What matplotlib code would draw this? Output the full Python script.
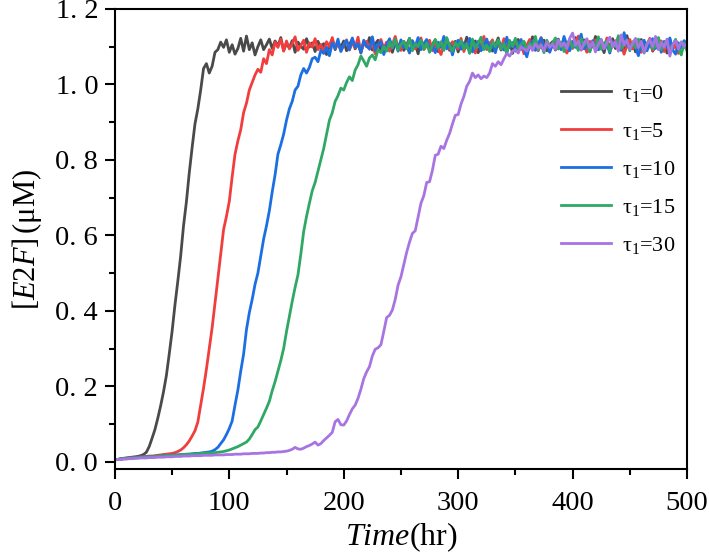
import numpy as np
import matplotlib
matplotlib.use("Agg")
import matplotlib.pyplot as plt
from matplotlib.ticker import MultipleLocator, FixedLocator

plt.rcParams['font.family'] = ['Liberation Serif', 'DejaVu Serif']
plt.rcParams['mathtext.fontset'] = 'custom'
plt.rcParams['mathtext.rm'] = 'Liberation Serif'
plt.rcParams['mathtext.it'] = 'Liberation Serif:italic'

time_hr = np.arange(0, 500.1, 2.5)

e2f_tau0 = [
    0.005, 0.006, 0.008, 0.009, 0.010, 0.011, 0.012, 0.013, 0.014, 0.016,
    0.019, 0.025, 0.040, 0.062, 0.085, 0.115, 0.148, 0.185, 0.228, 0.285,
    0.345, 0.415, 0.478, 0.545, 0.625, 0.688, 0.765, 0.832, 0.895, 0.935,
    0.985, 1.042, 1.055, 1.030, 1.048, 1.085, 1.092, 1.112, 1.098, 1.118,
    1.085, 1.105, 1.080, 1.095, 1.122, 1.088, 1.128, 1.092, 1.110, 1.078,
    1.100, 1.118, 1.092, 1.105, 1.120, 1.095, 1.115, 1.102, 1.124, 1.090,
    1.108, 1.097, 1.116, 1.085, 1.112, 1.101, 1.093, 1.121, 1.099, 1.110,
    1.087, 1.114, 1.096, 1.108, 1.079, 1.103, 1.118, 1.092, 1.111, 1.098,
    1.115, 1.089, 1.106, 1.120, 1.094, 1.109, 1.083, 1.113, 1.100, 1.124,
    1.091, 1.107, 1.117, 1.088, 1.102, 1.096, 1.119, 1.085, 1.110, 1.099,
    1.113, 1.090, 1.105, 1.122, 1.094, 1.108, 1.081, 1.112, 1.097, 1.116,
    1.093, 1.106, 1.118, 1.087, 1.109, 1.098, 1.121, 1.090, 1.104, 1.114,
    1.086, 1.111, 1.099, 1.125, 1.092, 1.107, 1.115, 1.084, 1.103, 1.119,
    1.095, 1.110, 1.088, 1.104, 1.123, 1.091, 1.108, 1.097, 1.116, 1.082,
    1.106, 1.119, 1.093, 1.112, 1.087, 1.101, 1.126, 1.094, 1.109, 1.098,
    1.117, 1.089, 1.105, 1.113, 1.091, 1.120, 1.096, 1.108, 1.085, 1.111,
    1.102, 1.124, 1.093, 1.107, 1.118, 1.088, 1.110, 1.099, 1.127, 1.092,
    1.106, 1.084, 1.113, 1.100, 1.121, 1.095, 1.108, 1.117, 1.090, 1.129,
    1.097, 1.111, 1.086, 1.104, 1.119, 1.093, 1.107, 1.115, 1.088, 1.101,
    1.122, 1.096, 1.109, 1.083, 1.112, 1.100, 1.118, 1.091, 1.106, 1.114,
    1.095,
]

e2f_tau5 = [
    0.005, 0.006, 0.007, 0.008, 0.009, 0.010, 0.011, 0.011, 0.012, 0.013,
    0.013, 0.014, 0.015, 0.015, 0.016, 0.017, 0.018, 0.019, 0.020, 0.021,
    0.022, 0.024, 0.027, 0.031, 0.037, 0.045, 0.055, 0.068, 0.082, 0.105,
    0.150, 0.195, 0.245, 0.300, 0.355, 0.420, 0.485, 0.550, 0.615, 0.650,
    0.690, 0.755, 0.815, 0.850, 0.880, 0.925, 0.950, 0.985, 1.005, 1.025,
    1.040, 1.032, 1.068, 1.055, 1.092, 1.078, 1.112, 1.098, 1.120, 1.088,
    1.115, 1.094, 1.108, 1.126, 1.090, 1.103, 1.117, 1.085, 1.110, 1.099,
    1.121, 1.092, 1.106, 1.084, 1.113, 1.100, 1.124, 1.095, 1.108, 1.089,
    1.104, 1.118, 1.091, 1.111, 1.097, 1.125, 1.086, 1.107, 1.114, 1.093,
    1.109, 1.081, 1.102, 1.119, 1.095, 1.112, 1.088, 1.105, 1.127, 1.098,
    1.090, 1.114, 1.100, 1.085, 1.116, 1.094, 1.108, 1.123, 1.092, 1.103,
    1.117, 1.089, 1.110, 1.096, 1.079, 1.106, 1.120, 1.093, 1.113, 1.101,
    1.094, 1.122, 1.087, 1.109, 1.116, 1.098, 1.083, 1.111, 1.104, 1.127,
    1.092, 1.107, 1.118, 1.090, 1.105, 1.095, 1.121, 1.086, 1.112, 1.100,
    1.115, 1.093, 1.108, 1.081, 1.104, 1.119, 1.097, 1.110, 1.089, 1.124,
    1.099, 1.112, 1.087, 1.106, 1.120, 1.094, 1.101, 1.116, 1.083, 1.109,
    1.095, 1.113, 1.128, 1.091, 1.107, 1.085, 1.114, 1.100, 1.118, 1.093,
    1.110, 1.097, 1.123, 1.088, 1.105, 1.116, 1.092, 1.108, 1.080, 1.103,
    1.119, 1.094, 1.111, 1.099, 1.085, 1.113, 1.106, 1.122, 1.090, 1.102,
    1.096, 1.115, 1.087, 1.109, 1.120, 1.093, 1.104, 1.082, 1.111, 1.098,
    1.112,
]

e2f_tau10 = [
    0.005, 0.006, 0.007, 0.008, 0.009, 0.009, 0.010, 0.011, 0.011, 0.012,
    0.012, 0.013, 0.013, 0.014, 0.014, 0.015, 0.015, 0.016, 0.016, 0.017,
    0.017, 0.018, 0.018, 0.019, 0.019, 0.020, 0.020, 0.021, 0.022, 0.022,
    0.023, 0.024, 0.025, 0.026, 0.028, 0.032, 0.038, 0.048, 0.058, 0.072,
    0.088, 0.108, 0.150, 0.190, 0.240, 0.285, 0.350, 0.395, 0.430, 0.470,
    0.500, 0.545, 0.590, 0.625, 0.665, 0.715, 0.760, 0.815, 0.840, 0.868,
    0.905, 0.935, 0.955, 0.985, 0.995, 1.025, 1.042, 1.030, 1.045, 1.068,
    1.072, 1.060, 1.090, 1.082, 1.098, 1.076, 1.110, 1.095, 1.120, 1.087,
    1.105, 1.116, 1.092, 1.123, 1.099, 1.108, 1.085, 1.117, 1.101, 1.094,
    1.126, 1.090, 1.107, 1.113, 1.079, 1.104, 1.121, 1.096, 1.110, 1.088,
    1.118, 1.097, 1.106, 1.083, 1.115, 1.100, 1.124, 1.092, 1.108, 1.119,
    1.091, 1.103, 1.084, 1.112, 1.099, 1.127, 1.094, 1.109, 1.078, 1.105,
    1.117, 1.093, 1.110, 1.098, 1.122, 1.086, 1.106, 1.114, 1.089, 1.101,
    1.120, 1.095, 1.108, 1.084, 1.116, 1.102, 1.091, 1.125, 1.097, 1.111,
    1.088, 1.106, 1.119, 1.093, 1.073, 1.104, 1.115, 1.090, 1.109, 1.123,
    1.096, 1.112, 1.085, 1.107, 1.100, 1.118, 1.092, 1.127, 1.103, 1.089,
    1.114, 1.098, 1.109, 1.133, 1.094, 1.105, 1.087, 1.116, 1.101, 1.092,
    1.119, 1.096, 1.108, 1.083, 1.113, 1.100, 1.124, 1.090, 1.137, 1.106,
    1.093, 1.111, 1.098, 1.076, 1.104, 1.117, 1.089, 1.107, 1.121, 1.095,
    1.108, 1.085, 1.114, 1.099, 1.123, 1.091, 1.080, 1.110, 1.097, 1.116,
    1.102,
]

e2f_tau15 = [
    0.005, 0.006, 0.007, 0.008, 0.008, 0.009, 0.010, 0.010, 0.011, 0.011,
    0.012, 0.012, 0.013, 0.013, 0.014, 0.014, 0.015, 0.015, 0.016, 0.016,
    0.017, 0.017, 0.018, 0.018, 0.019, 0.019, 0.020, 0.020, 0.021, 0.021,
    0.022, 0.022, 0.023, 0.023, 0.024, 0.024, 0.025, 0.026, 0.027, 0.029,
    0.031, 0.034, 0.037, 0.040, 0.044, 0.048, 0.052, 0.060, 0.072, 0.085,
    0.092, 0.108, 0.125, 0.142, 0.160, 0.188, 0.212, 0.240, 0.268, 0.300,
    0.345, 0.385, 0.425, 0.462, 0.495, 0.550, 0.610, 0.650, 0.685, 0.718,
    0.740, 0.770, 0.800, 0.830, 0.868, 0.905, 0.925, 0.955, 0.970, 0.990,
    0.985, 1.005, 1.020, 1.010, 1.038, 1.052, 1.075, 1.062, 1.048, 1.070,
    1.078, 1.065, 1.092, 1.084, 1.100, 1.088, 1.112, 1.097, 1.120, 1.091,
    1.106, 1.114, 1.095, 1.122, 1.089, 1.108, 1.101, 1.117, 1.093, 1.110,
    1.085, 1.104, 1.119, 1.097, 1.113, 1.090, 1.124, 1.102, 1.088, 1.111,
    1.099, 1.116, 1.094, 1.107, 1.082, 1.120, 1.096, 1.109, 1.125, 1.092,
    1.104, 1.087, 1.113, 1.100, 1.118, 1.093, 1.108, 1.080, 1.115, 1.101,
    1.122, 1.095, 1.106, 1.114, 1.089, 1.110, 1.098, 1.127, 1.091, 1.105,
    1.084, 1.117, 1.100, 1.109, 1.123, 1.094, 1.112, 1.087, 1.106, 1.119,
    1.097, 1.108, 1.090, 1.121, 1.103, 1.115, 1.086, 1.110, 1.099, 1.126,
    1.093, 1.107, 1.116, 1.088, 1.111, 1.100, 1.129, 1.095, 1.104, 1.118,
    1.089, 1.113, 1.097, 1.120, 1.106, 1.083, 1.109, 1.116, 1.094, 1.102,
    1.124, 1.092, 1.108, 1.115, 1.087, 1.103, 1.119, 1.096, 1.078, 1.110,
    1.088,
]

e2f_tau30 = [
    0.005, 0.006, 0.006, 0.007, 0.007, 0.008, 0.008, 0.009, 0.009, 0.010,
    0.010, 0.010, 0.011, 0.011, 0.011, 0.012, 0.012, 0.012, 0.013, 0.013,
    0.013, 0.014, 0.014, 0.014, 0.015, 0.015, 0.015, 0.016, 0.016, 0.016,
    0.016, 0.017, 0.017, 0.017, 0.017, 0.018, 0.018, 0.018, 0.018, 0.019,
    0.019, 0.019, 0.020, 0.020, 0.020, 0.021, 0.021, 0.021, 0.022, 0.022,
    0.022, 0.023, 0.023, 0.024, 0.024, 0.025, 0.025, 0.026, 0.026, 0.027,
    0.028, 0.030, 0.033, 0.038, 0.034, 0.033, 0.036, 0.040, 0.043, 0.047,
    0.052, 0.044, 0.048, 0.056, 0.063, 0.070, 0.078, 0.106, 0.112, 0.098,
    0.097, 0.108, 0.125, 0.140, 0.150, 0.168, 0.192, 0.220, 0.238, 0.252,
    0.280, 0.298, 0.302, 0.310, 0.345, 0.382, 0.388, 0.402, 0.430, 0.468,
    0.490, 0.522, 0.555, 0.582, 0.605, 0.612, 0.648, 0.685, 0.705, 0.740,
    0.742, 0.772, 0.812, 0.815, 0.836, 0.830, 0.852, 0.870, 0.895, 0.918,
    0.920, 0.948, 0.968, 0.995, 1.008, 1.030, 1.018, 1.025, 1.015, 1.022,
    1.018, 1.030, 1.055, 1.048, 1.060, 1.052, 1.068, 1.082, 1.075, 1.088,
    1.092, 1.083, 1.100, 1.094, 1.088, 1.102, 1.090, 1.108, 1.096, 1.104,
    1.089, 1.112, 1.098, 1.107, 1.093, 1.118, 1.101, 1.110, 1.095, 1.122,
    1.136, 1.103, 1.115, 1.091, 1.109, 1.121, 1.097, 1.112, 1.086, 1.106,
    1.118, 1.094, 1.110, 1.125, 1.099, 1.113, 1.088, 1.131, 1.104, 1.117,
    1.093, 1.109, 1.122, 1.097, 1.114, 1.085, 1.106, 1.119, 1.100, 1.127,
    1.092, 1.111, 1.098, 1.120, 1.075, 1.105, 1.116, 1.094, 1.113, 1.101,
    1.108,
]

series = [e2f_tau0, e2f_tau5, e2f_tau10, e2f_tau15, e2f_tau30]
labels = ['τ$_1$=0', 'τ$_1$=5', 'τ$_1$=10', 'τ$_1$=15', 'τ$_1$=30']
colors = ['#4a4a4a', '#f23d3d', '#1c6fe3', '#2fa865', '#a774e2']

fig = plt.figure(figsize=(7.09, 5.56), dpi=100)
ax = fig.add_axes([0.162, 0.156, 0.807, 0.828])

for vals, lab, col in zip(series, labels, colors):
    ax.plot(time_hr, vals, color=col, lw=2.0, label=lab)

ax.set_xlim(0, 500)
ax.set_ylim(-0.02, 1.2)

ax.xaxis.set_major_locator(MultipleLocator(100))
ax.xaxis.set_minor_locator(MultipleLocator(50))
yticks = [0.0, 0.2, 0.4, 0.6, 0.8, 1.0, 1.2]
ax.yaxis.set_major_locator(FixedLocator(yticks))
ax.set_yticklabels([f"{v:.1f}".replace('.', '. ') for v in yticks])
ax.yaxis.set_minor_locator(FixedLocator([0.1, 0.3, 0.5, 0.7, 0.9, 1.1]))

ax.tick_params(which='both', direction='out', top=False, right=False,
               width=1.5, labelsize=20.5)
ax.tick_params(which='major', length=7)
ax.tick_params(which='minor', length=4)
ax.tick_params(axis='x', pad=9)
ax.tick_params(axis='y', pad=5)
for sp in ax.spines.values():
    sp.set_linewidth(1.5)

ax.set_xlabel(r'$\it{Time}$(hr)', fontsize=23, labelpad=3)
ax.set_ylabel(r'[$\it{E2F}$]$\,$(μM)', fontsize=22, labelpad=8)

ax.legend(loc='upper left', bbox_to_anchor=(0.78, 0.839), frameon=False,
          fontsize=16, handlelength=2.25, handletextpad=0.5,
          labelspacing=0.76, borderaxespad=0, borderpad=0)

fig.savefig('out.png', dpi=100)
